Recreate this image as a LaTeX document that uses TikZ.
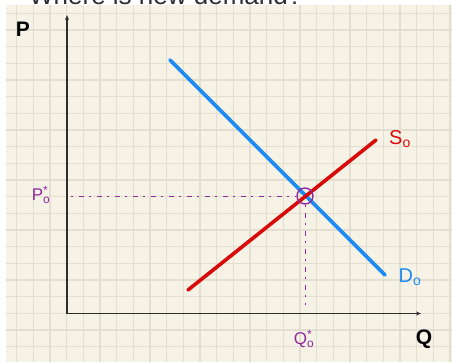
\documentclass[tikz,border=0pt]{standalone}
\usepackage{fontspec}
\setmainfont{Liberation Sans}
\usetikzlibrary{arrows.meta}
\definecolor{PaperCream}{HTML}{F6F3E6}
\definecolor{GridLine}{HTML}{E2DED0}
\definecolor{AxisDark}{HTML}{2E2E2E}
\definecolor{DemandBlue}{HTML}{1E8BF5}
\definecolor{SupplyRed}{HTML}{D90A0A}
\definecolor{EqPurple}{HTML}{8E2A9E}

\begin{document}
\begin{tikzpicture}[x=1pt, y=-1pt,
      ax/.style={-{Stealth[open, length=5pt, width=4pt]}, AxisDark, line width=1.4pt},
      crv/.style={line width=3.6pt, line cap=round},
      guide/.style={EqPurple, line width=1pt, dash pattern=on 2pt off 6pt on 5pt off 5pt},
      lbl/.style={font=\fontsize{21}{24}\selectfont\bfseries, inner sep=0pt},
      curvelbl/.style={font=\fontsize{20}{24}\selectfont, inner sep=0pt},
      star/.style={font=\fontsize{17}{20}\selectfont, text=EqPurple, inner sep=0pt},
    ]
      \useasboundingbox (0,0) rectangle (452,362);
      \clip (0,0) rectangle (452,362);
      % squared paper
      \fill[PaperCream] (6,4.5) rectangle (452,362);
      \foreach \k in {1,...,27}
        \draw[GridLine, line width=1.2pt] (16.667*\k,4.5) -- (16.667*\k,362);
      \foreach \k in {0,...,21}
        \draw[GridLine, line width=1.2pt] (6,13.333+16.667*\k) -- (452,13.333+16.667*\k);
      \node[font=\fontsize{26}{30}\selectfont, text=AxisDark, anchor=base west, inner sep=0pt]
        (title) at (29,4) {Where is new demand?};
      % axes
      \coordinate (o) at (67,313.5);
      \coordinate (ptop) at (67,15);
      \coordinate (qend) at (421,313.5);
      \draw[ax] (o) -- (ptop);
      \draw[ax] (o) -- (qend);
      \node[lbl] (p) at (23,29) {P};
      \node[lbl] (q) at (424,339) {Q};
      % demand and supply
      \coordinate (d1) at (170,60);
      \coordinate (d2) at (385,275);
      \coordinate (s1) at (188,290);
      \coordinate (s2) at (376,140);
      \draw[crv, DemandBlue] (d1) -- (d2);
      \draw[crv, SupplyRed] (s1) -- (s2);
      \node[curvelbl, text=SupplyRed] (so) at (400,139) {S\textsubscript{o}};
      \node[curvelbl, text=DemandBlue] (do) at (410,277) {D\textsubscript{o}};
      % equilibrium
      \node[circle, draw=EqPurple, line width=1.4pt, minimum size=16pt, inner sep=0pt] (eq) at (305,196) {};
      \coordinate (pa) at (71,196);
      \coordinate (qa) at (305,305);
      \draw[guide] (pa) -- (eq.west);
      \draw[guide] (eq.south) -- (qa);
      \node[star] (pstar) at (41,195) {P\rlap{\textsuperscript{*}}\textsubscript{o}};
      \node[star] (qstar) at (304,339) {Q\rlap{\textsuperscript{*}}\textsubscript{o}};
    \end{tikzpicture}
\end{document}
